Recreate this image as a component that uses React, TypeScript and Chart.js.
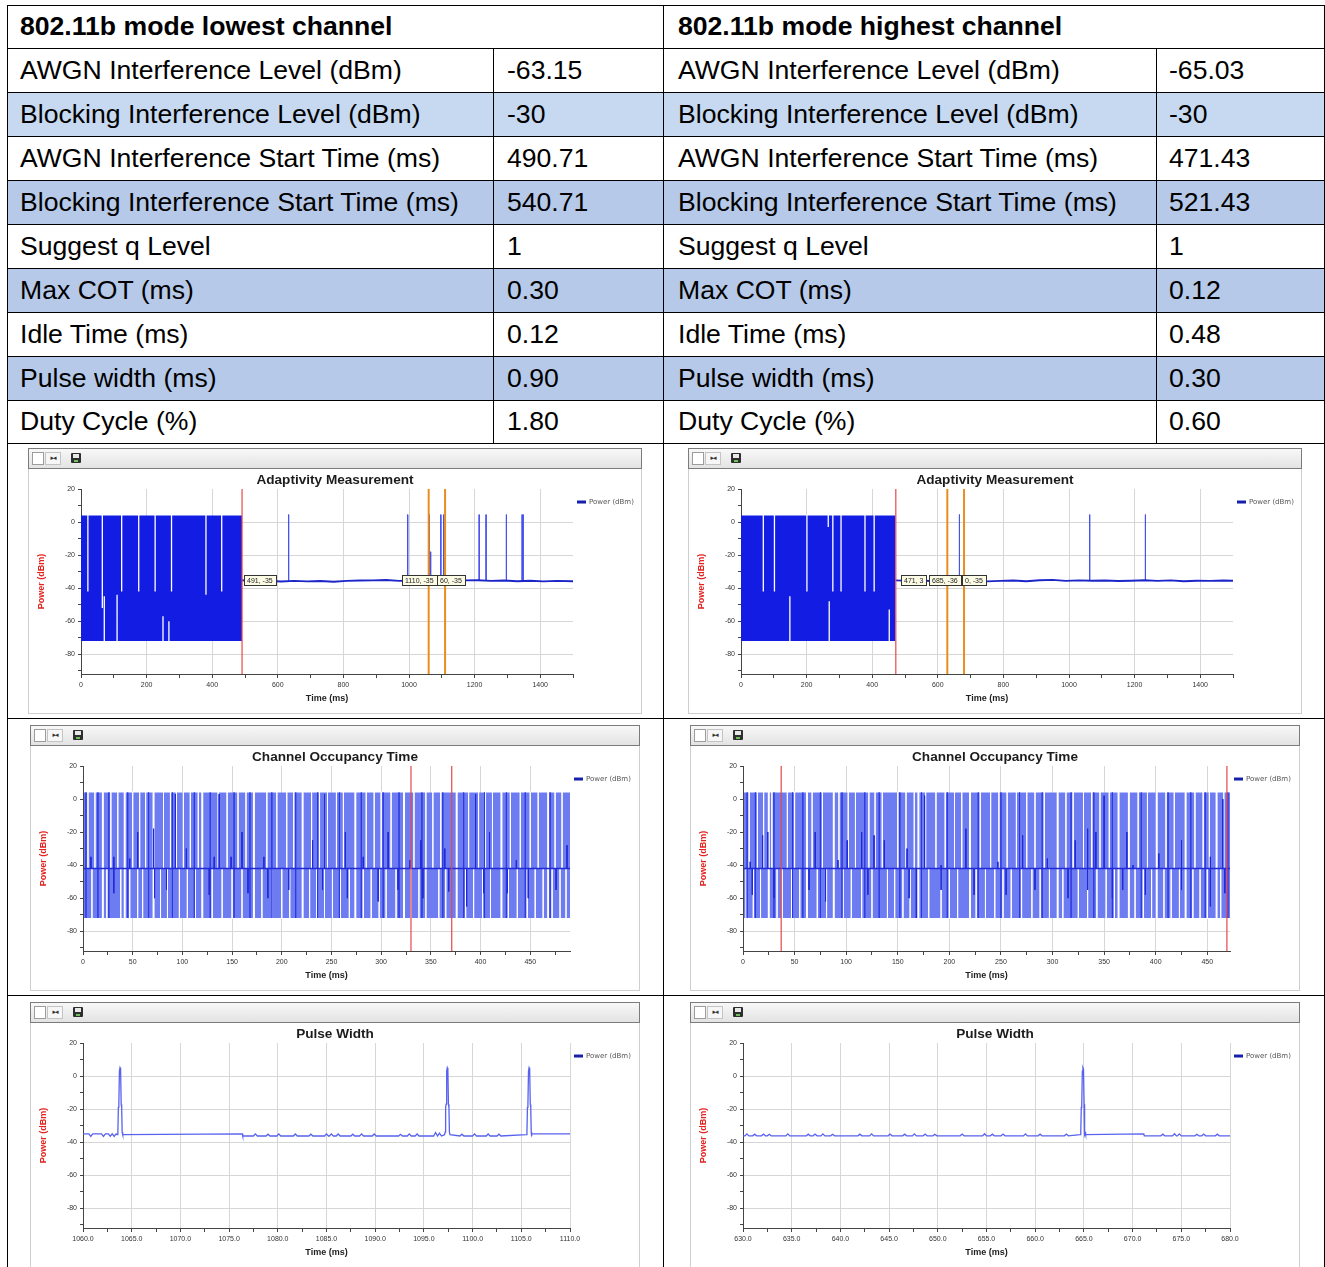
import React, { useEffect, useRef } from 'react';
import { Chart, registerables } from 'chart.js';

Chart.register(...registerables);

// ---------------- table content ----------------
const headerLowest = '802.11b mode lowest channel';
const headerHighest = '802.11b mode highest channel';
const rowLabels = [
  'AWGN Interference Level (dBm)',
  'Blocking Interference Level (dBm)',
  'AWGN Interference Start Time (ms)',
  'Blocking Interference Start Time (ms)',
  'Suggest q Level',
  'Max COT (ms)',
  'Idle Time (ms)',
  'Pulse width (ms)',
  'Duty Cycle (%)',
];
const lowestValues = ['-63.15', '-30', '490.71', '540.71', '1', '0.30', '0.12', '0.90', '1.80'];
const highestValues = ['-65.03', '-30', '471.43', '521.43', '1', '0.12', '0.48', '0.30', '0.60'];
const rowShades = ['none', 'light', 'none', 'mid', 'none', 'mid', 'none', 'mid', 'none'];

// ---------------- shared axis content ----------------
const powerTicks = [-90, -80, -70, -60, -50, -40, -30, -20, -10, 0, 10, 20];
const powerTickLabels = ['', '-80', '', '-60', '', '-40', '', '-20', '', '0', '', '20'];
const powerRange = [-92, 20];
const legendLabel = 'Power (dBm)';
const markerLabelLevel = -35;

// ---------------- Adaptivity (lowest) ----------------
const adaptTicks = [0, 100, 200, 300, 400, 500, 600, 700, 800, 900, 1000, 1100, 1200, 1300, 1400, 1500];
const adaptTickLabels = ['0', '', '200', '', '400', '', '600', '', '800', '', '1000', '', '1200', '', '1400', ''];
const blockLevels = [4, -72];
const a1Block = [0, 491];
const a1UpperGapTimes = [21, 65, 124, 176, 226, 276, 381, 429];
const a1UpperGapBottoms = [-42, -52, -42, -42, -42, -42, -44, -42];
const a1LowerGapTimes = [71, 110, 250, 268];
const a1LowerGapTops = [-45, -44, -57, -60];
const a1BaseTimes = [491, 530, 570, 610, 650, 690, 730, 770, 810, 850, 890, 930, 970, 1010, 1050, 1090, 1130, 1170, 1210, 1250, 1290, 1330, 1370, 1410, 1450, 1500];
const a1BaseValues = [-35.2, -35.8, -35.5, -36.0, -35.6, -35.9, -35.7, -36.1, -35.6, -35.4, -35.3, -35.1, -35.6, -35.4, -35.7, -35.5, -35.8, -35.3, -35.2, -35.6, -35.4, -35.8, -35.5, -35.9, -35.6, -35.8];
const a1SpikeTimes = [633, 996, 1062, 1066, 1097, 1106, 1214, 1235, 1297, 1345, 1348];
const a1SpikeTops = [4.5, 4.5, 4.5, -18, 4.5, 4.5, 4.5, 4.5, 4.5, 4.5, 4.5];
const a1RedLines = [491];
const a1OrangeLines = [1060, 1110];
const a1LabelTimes = [497, 979, 1085];
const a1LabelTexts = ['491, -35', '1110, -35', '60, -35'];

// ---------------- Adaptivity (highest) ----------------
const a2Block = [0, 471];
const a2UpperGapTimes = [68, 102, 201, 266, 280, 305, 378, 406];
const a2UpperGapBottoms = [-42, -42, -42, -3, -42, -42, -42, -42];
const a2LowerGapTimes = [149, 269, 452];
const a2LowerGapTops = [-45, -48, -53];
const a2BaseTimes = [471, 510, 550, 590, 630, 670, 710, 750, 790, 830, 870, 910, 950, 990, 1030, 1070, 1110, 1150, 1190, 1230, 1270, 1310, 1350, 1390, 1430, 1470, 1500];
const a2BaseValues = [-35.3, -35.6, -35.4, -35.8, -35.5, -35.3, -35.7, -35.9, -35.6, -35.4, -35.8, -35.2, -35.0, -35.6, -35.3, -35.5, -35.4, -35.7, -35.5, -35.2, -35.6, -35.3, -35.8, -35.5, -35.6, -35.4, -35.5];
const a2SpikeTimes = [666, 1063, 1233];
const a2SpikeTops = [4.5, 4.5, 4.5];
const a2RedLines = [472];
const a2OrangeLines = [629, 680];
const a2LabelTimes = [487, 572, 673];
const a2LabelTexts = ['471, 3', '685, -36', '0, -35'];

// ---------------- Channel Occupancy Time (lowest) ----------------
const cotMidLevel = -42;
const cot1Ticks = [0, 25, 50, 75, 100, 125, 150, 175, 200, 225, 250, 275, 300, 325, 350, 375, 400, 425, 450, 475];
const cot1TickLabels = ['0', '', '50', '', '100', '', '150', '', '200', '', '250', '', '300', '', '350', '', '400', '', '450', ''];
const cot1Range = [0, 490];
const c1Span = [1, 490];
const c1FullGaps = [20, 42, 71, 120, 172, 221, 274, 323, 376, 421, 468];
const c1UpperGaps = [5, 12, 28, 35, 50, 57, 63, 81, 88, 94, 101, 108, 116, 136, 145, 156, 164, 185, 195, 205, 212, 230, 238, 246, 255, 262, 285, 293, 300, 310, 333, 345, 352, 360, 388, 398, 405, 412, 430, 440, 450, 458, 475, 482];
const c1LowerGaps = [9, 24, 38, 47, 55, 60, 78, 85, 97, 105, 113, 130, 140, 150, 160, 180, 190, 200, 208, 228, 235, 243, 251, 259, 268, 282, 290, 298, 305, 315, 330, 338, 345, 358, 365, 385, 393, 402, 410, 428, 437, 447, 455, 463, 472, 480, 486];
const c1DarkFull = [3, 15, 26, 45, 66, 90, 112, 128, 152, 168, 190, 214, 236, 258, 280, 302, 318, 341, 362, 383, 404, 426, 445, 470];
const c1DarkUpTimes = [8, 31, 47, 55, 71, 93, 104, 132, 137, 149, 160, 182, 231, 243, 264, 282, 307, 329, 340, 364, 395, 409, 436, 487];
const c1DarkUpTops = [-35, -35, -36, -20, -18, 3, -30, -35, 3, -35, -20, -35, -25, 3, -20, -35, -20, -37, -25, -30, 3, -20, -37, -28];
const c1DarkLowTimes = [31, 72, 84, 127, 166, 186, 207, 241, 266, 297, 317, 342, 368, 386, 403, 427, 448, 476];
const c1DarkLowBottoms = [-57, -60, -55, -58, -57, -60, -55, -55, -60, -62, -55, -60, -56, -65, -57, -57, -60, -55];
const c1RedLines = [330, 371];

// ---------------- Channel Occupancy Time (highest) ----------------
const cot2Ticks = [0, 25, 50, 75, 100, 125, 150, 175, 200, 225, 250, 275, 300, 325, 350, 375, 400, 425, 450];
const cot2TickLabels = ['0', '', '50', '', '100', '', '150', '', '200', '', '250', '', '300', '', '350', '', '400', '', '450'];
const cot2Range = [0, 472];
const c2Span = [1, 472];
const c2FullGaps = [25, 62, 88, 170, 220, 305, 364, 374, 401, 429, 459];
const c2UpperGaps = [6, 14, 20, 28, 43, 50, 67, 77, 93, 102, 109, 122, 128, 135, 150, 158, 166, 177, 187, 196, 205, 212, 230, 240, 248, 256, 265, 275, 283, 292, 313, 320, 330, 338, 346, 355, 383, 392, 410, 418, 438, 446, 452, 466];
const c2LowerGaps = [3, 10, 17, 33, 38, 47, 55, 72, 81, 97, 105, 115, 125, 140, 147, 155, 162, 180, 192, 200, 208, 226, 235, 244, 252, 260, 270, 280, 288, 297, 310, 325, 334, 343, 352, 360, 380, 388, 396, 408, 415, 423, 436, 443, 450, 463];
const c2DarkFull = [4, 12, 30, 48, 58, 75, 96, 118, 132, 152, 173, 198, 228, 250, 268, 290, 318, 340, 358, 386, 412, 434, 448, 470];
const c2DarkUpTimes = [7, 19, 24, 70, 92, 101, 115, 127, 137, 159, 176, 192, 216, 247, 271, 295, 322, 334, 342, 350, 372, 378, 403, 425, 453, 465];
const c2DarkUpTops = [-38, -22, -20, -20, -37, -25, -20, -22, -25, -30, 2, -40, -18, -38, -22, -36, -25, -18, -20, 2, -20, -40, -33, -25, -35, 0];
const c2DarkLowTimes = [9, 30, 64, 80, 121, 161, 168, 192, 224, 255, 283, 315, 334, 358, 368, 390, 425, 453, 467];
const c2DarkLowBottoms = [-58, -60, -55, -62, -58, -60, -72, -55, -58, -58, -55, -60, -55, -60, -55, -58, -55, -65, -57];
const c2RedLines = [37, 469];

// ---------------- Pulse Width ----------------
const pulseOffsets = [-0.28, -0.22, -0.17, -0.12, -0.06, 0, 0.06, 0.12, 0.17, 0.22, 0.28];
const pulseLevels = [-35.5, -34, -19, -17, 3, 5, 4, -17, -19, -34, -35.5];

const pulse1Ticks = [1060, 1062.5, 1065, 1067.5, 1070, 1072.5, 1075, 1077.5, 1080, 1082.5, 1085, 1087.5, 1090, 1092.5, 1095, 1097.5, 1100, 1102.5, 1105, 1107.5, 1110];
const pulse1TickLabels = ['1060.0', '', '1065.0', '', '1070.0', '', '1075.0', '', '1080.0', '', '1085.0', '', '1090.0', '', '1095.0', '', '1100.0', '', '1105.0', '', '1110.0'];
const p1LevelStarts = [1060, 1076.4, 1106.1];
const p1LevelValues = [-35, -36.3, -35];
const p1BumpTimes = [1060.8, 1062.1, 1062.8, 1063.2, 1077.7, 1079.0, 1080.1, 1081.8, 1083.4, 1085.0, 1085.5, 1086.2, 1087.7, 1088.6, 1089.9, 1092.6, 1093.5, 1094.3, 1096.2, 1096.6, 1098.9, 1100.2, 1101.6, 1102.7];
const p1BumpValues = [-36.6, -36.6, -36.4, -36.6, -35.0, -35.2, -35.0, -35.1, -35.2, -35.0, -35.0, -35.1, -35.2, -35.0, -35.1, -35.3, -35.0, -35.1, -34.2, -34.6, -35.2, -35.0, -35.1, -35.2];
const p1PulseTimes = [1063.8, 1097.4, 1105.8];

const pulse2Ticks = [630, 632.5, 635, 637.5, 640, 642.5, 645, 647.5, 650, 652.5, 655, 657.5, 660, 662.5, 665, 667.5, 670, 672.5, 675, 677.5, 680];
const pulse2TickLabels = ['630.0', '', '635.0', '', '640.0', '', '645.0', '', '650.0', '', '655.0', '', '660.0', '', '665.0', '', '670.0', '', '675.0', '', '680.0'];
const p2LevelStarts = [630, 665.1, 671.2];
const p2LevelValues = [-36.2, -35, -36.2];
const p2BumpTimes = [630.4, 631.2, 632.1, 632.7, 634.6, 636.7, 637.4, 638.2, 639.2, 642.0, 643.2, 645.1, 646.6, 647.6, 648.7, 649.7, 652.5, 654.8, 655.6, 656.7, 659.0, 660.5, 663.2, 673.1, 674.3, 674.8, 676.6, 677.3, 678.7];
const p2BumpValues = [-35.0, -35.2, -35.1, -35.3, -35.0, -35.2, -35.1, -35.0, -35.3, -35.2, -35.0, -35.1, -35.2, -35.0, -35.1, -35.3, -35.1, -34.9, -35.2, -35.1, -35.0, -35.2, -35.1, -35.2, -34.9, -35.0, -35.3, -35.1, -35.2];
const p2PulseTimes = [664.9];

// ---------------- styles ----------------
const FONT = '"Liberation Sans", Arial, sans-serif';
const BLOCK_BLUE = 'rgb(18,28,226)';
const BASE_BLUE = 'rgb(28,38,200)';
const SPIKE_BLUE = 'rgb(70,82,236)';
const COT_FILL = 'rgb(110,124,242)';
const COT_DARK = 'rgb(32,42,214)';
const COT_MED = 'rgba(40,52,222,0.65)';
const COT_GAP = 'rgba(255,255,255,0.85)';
const PULSE_BLUE = 'rgb(88,98,238)';
const RED = 'rgb(232,72,72)';
const ORANGE = 'rgb(232,142,32)';
const GRID = '#d6d6d6';
const AXIS = '#444';

type P = { x: number; y: number | null };

const seg = (times: number[], top: number | number[], bottom: number | number[]): P[] => {
  const pts: P[] = [];
  times.forEach((t, i) => {
    const a = Array.isArray(top) ? top[i] : top;
    const b = Array.isArray(bottom) ? bottom[i] : bottom;
    pts.push({ x: t, y: a }, { x: t, y: b }, { x: t, y: null });
  });
  return pts;
};

const lineDs = (data: P[], color: string, width: number, order: number, label = '') => ({
  label,
  data,
  borderColor: color,
  backgroundColor: color,
  borderWidth: width,
  pointRadius: 0,
  pointHoverRadius: 0,
  fill: false,
  tension: 0,
  spanGaps: false,
  order,
});

const bandDs = (span: number[], top: number, bottom: number, color: string, order: number) => ({
  label: '',
  data: [{ x: span[0], y: top }, { x: span[1], y: top }],
  borderWidth: 0,
  borderColor: 'rgba(0,0,0,0)',
  backgroundColor: color,
  pointRadius: 0,
  fill: { value: bottom },
  order,
});

const zip = (xs: number[], ys: number[]): P[] => xs.map((x, i) => ({ x, y: ys[i] }));

function adaptivityDatasets(block: number[], upT: number[], upB: number[], lowT: number[], lowTop: number[],
  baseT: number[], baseV: number[], spikeT: number[], spikeTop: number[], red: number[], orange: number[]) {
  const [top, bottom] = blockLevels;
  return [
    bandDs(block, top, bottom, BLOCK_BLUE, 20),
    lineDs(seg(upT, top + 0.5, upB), '#ffffff', 1.3, 18),
    lineDs(seg(lowT, lowTop, bottom - 0.5), '#ffffff', 1.3, 18),
    lineDs(seg(spikeT, spikeTop, -35.5), SPIKE_BLUE, 1, 11),
    lineDs(zip(baseT, baseV), BASE_BLUE, 1.9, 10, legendLabel),
    lineDs(seg(red, powerRange[1], powerRange[0]), RED, 1.2, 2),
    lineDs(seg(orange, powerRange[1], powerRange[0]), ORANGE, 2, 2),
  ];
}

function cotDatasets(span: number[], full: number[], upper: number[], lower: number[], darkFull: number[], darkUpT: number[], darkUpTop: number[],
  darkLowT: number[], darkLowBottom: number[], red: number[]) {
  const [top, bottom] = blockLevels;
  return [
    bandDs(span, top, bottom, COT_FILL, 20),
    lineDs(seg(upper, top + 0.5, cotMidLevel), COT_GAP, 1, 18),
    lineDs(seg(lower, cotMidLevel, bottom - 0.5), COT_GAP, 1, 18),
    lineDs(seg(full, top + 0.5, bottom - 0.5), '#ffffff', 2, 17),
    lineDs(seg(darkFull, top, bottom), COT_MED, 1, 16),
    lineDs(seg(darkUpT, darkUpTop, cotMidLevel), COT_DARK, 1, 15),
    lineDs(seg(darkLowT, cotMidLevel, darkLowBottom), COT_DARK, 1, 15),
    lineDs([{ x: span[0], y: cotMidLevel }, { x: span[1], y: cotMidLevel }], COT_DARK, 1.5, 12, legendLabel),
    lineDs(seg(red, powerRange[1], powerRange[0]), RED, 1.2, 2),
  ];
}

function pulseDatasets(levelStarts: number[], levelValues: number[], bumpT: number[], bumpV: number[], pulseT: number[], xMax: number) {
  const levelAt = (t: number) => {
    let v = levelValues[0];
    levelStarts.forEach((s, i) => { if (t >= s) v = levelValues[i]; });
    return v;
  };
  const pts: P[] = [];
  levelStarts.forEach((s, i) => {
    if (i > 0) pts.push({ x: s - 0.05, y: levelValues[i - 1] });
    pts.push({ x: s, y: levelValues[i] });
  });
  pts.push({ x: xMax, y: levelValues[levelValues.length - 1] });
  bumpT.forEach((t, i) => {
    const b = levelAt(t);
    pts.push({ x: t - 0.2, y: b }, { x: t, y: bumpV[i] }, { x: t + 0.2, y: b });
  });
  pulseT.forEach((t) => pulseOffsets.forEach((o, j) => pts.push({ x: t + o, y: pulseLevels[j] })));
  pts.sort((a, b) => a.x - b.x);
  return [lineDs(pts, PULSE_BLUE, 1.3, 10, legendLabel)];
}

const sideLegend = {
  id: 'sideLegend',
  afterDraw(chart: any) {
    const { ctx, chartArea } = chart;
    const x = chartArea.right + 4;
    const y = chartArea.top + 13;
    ctx.save();
    ctx.fillStyle = 'rgb(22,32,170)';
    ctx.fillRect(x, y - 1.5, 9, 3);
    ctx.font = `7px "DejaVu Sans", sans-serif`;
    ctx.fillStyle = '#555';
    ctx.textBaseline = 'middle';
    ctx.fillText(legendLabel, x + 12, y + 0.5);
    ctx.restore();
  },
};

const labelBoxes = (times: number[], texts: string[]) => ({
  id: 'labelBoxes',
  afterDatasetsDraw(chart: any) {
    const { ctx, scales } = chart;
    ctx.save();
    ctx.font = `7px ${FONT}`;
    ctx.textBaseline = 'middle';
    times.forEach((t, i) => {
      const px = Math.round(scales.x.getPixelForValue(t));
      const py = Math.round(scales.y.getPixelForValue(markerLabelLevel));
      const w = Math.round(ctx.measureText(texts[i]).width + 6);
      const h = 10;
      ctx.fillStyle = '#fbfbe6';
      ctx.fillRect(px, py - h / 2, w, h);
      ctx.strokeStyle = '#333';
      ctx.lineWidth = 1;
      ctx.strokeRect(px + 0.5, py - h / 2 + 0.5, w, h);
      ctx.fillStyle = '#222';
      ctx.fillText(texts[i], px + 3, py + 1);
    });
    ctx.restore();
  },
});

interface Spec {
  title: string;
  xRange: number[];
  xTicks: number[];
  xTickLabels: string[];
  datasets: any[];
  labelTimes?: number[];
  labelTexts?: string[];
}

const specs: Spec[] = [
  {
    title: 'Adaptivity Measurement', xRange: [0, 1500], xTicks: adaptTicks, xTickLabels: adaptTickLabels,
    datasets: adaptivityDatasets(a1Block, a1UpperGapTimes, a1UpperGapBottoms, a1LowerGapTimes, a1LowerGapTops,
      a1BaseTimes, a1BaseValues, a1SpikeTimes, a1SpikeTops, a1RedLines, a1OrangeLines),
    labelTimes: a1LabelTimes, labelTexts: a1LabelTexts,
  },
  {
    title: 'Adaptivity Measurement', xRange: [0, 1500], xTicks: adaptTicks, xTickLabels: adaptTickLabels,
    datasets: adaptivityDatasets(a2Block, a2UpperGapTimes, a2UpperGapBottoms, a2LowerGapTimes, a2LowerGapTops,
      a2BaseTimes, a2BaseValues, a2SpikeTimes, a2SpikeTops, a2RedLines, a2OrangeLines),
    labelTimes: a2LabelTimes, labelTexts: a2LabelTexts,
  },
  {
    title: 'Channel Occupancy Time', xRange: cot1Range, xTicks: cot1Ticks, xTickLabels: cot1TickLabels,
    datasets: cotDatasets(c1Span, c1FullGaps, c1UpperGaps, c1LowerGaps, c1DarkFull, c1DarkUpTimes, c1DarkUpTops, c1DarkLowTimes, c1DarkLowBottoms, c1RedLines),
  },
  {
    title: 'Channel Occupancy Time', xRange: cot2Range, xTicks: cot2Ticks, xTickLabels: cot2TickLabels,
    datasets: cotDatasets(c2Span, c2FullGaps, c2UpperGaps, c2LowerGaps, c2DarkFull, c2DarkUpTimes, c2DarkUpTops, c2DarkLowTimes, c2DarkLowBottoms, c2RedLines),
  },
  {
    title: 'Pulse Width', xRange: [1060, 1110], xTicks: pulse1Ticks, xTickLabels: pulse1TickLabels,
    datasets: pulseDatasets(p1LevelStarts, p1LevelValues, p1BumpTimes, p1BumpValues, p1PulseTimes, 1110),
  },
  {
    title: 'Pulse Width', xRange: [630, 680], xTicks: pulse2Ticks, xTickLabels: pulse2TickLabels,
    datasets: pulseDatasets(p2LevelStarts, p2LevelValues, p2BumpTimes, p2BumpValues, p2PulseTimes, 680),
  },
];

const CANVAS_H = 244;
const PLOT_LEFT = 52;

function makeConfig(spec: Spec, canvasW: number, plotRight: number): any {
  const tickFont = { size: 7, family: FONT };
  return {
    type: 'line',
    data: { datasets: spec.datasets },
    options: {
      animation: false,
      responsive: false,
      events: [],
      layout: { padding: 0 },
      plugins: {
        legend: { display: false },
        tooltip: { enabled: false },
        title: {
          display: true,
          text: spec.title,
          color: '#1c1c1c',
          font: { size: 13.6, weight: 'bold', family: FONT },
          padding: { top: 3, bottom: 0.7 },
        },
      },
      scales: {
        x: {
          type: 'linear',
          min: spec.xRange[0],
          max: spec.xRange[1],
          afterBuildTicks: (s: any) => { s.ticks = spec.xTicks.map((v) => ({ value: v })); },
          afterFit: (s: any) => { s.height = 39; },
          ticks: {
            autoSkip: false, maxRotation: 0, minRotation: 0, padding: 3, color: '#333', font: tickFont,
            callback: (_v: any, i: number) => spec.xTickLabels[i],
          },
          grid: {
            color: (c: any) => (spec.xTickLabels[c.index] ? GRID : 'rgba(0,0,0,0)'),
            tickColor: AXIS, tickLength: 4, lineWidth: 1,
          },
          border: { color: AXIS, width: 1 },
          title: {
            display: true, text: 'Time (ms)', color: '#222',
            font: { size: 9, weight: 'bold', family: FONT }, padding: { top: 0, bottom: 8.6 },
          },
        },
        y: {
          type: 'linear',
          min: powerRange[0],
          max: powerRange[1],
          afterBuildTicks: (s: any) => { s.ticks = powerTicks.map((v) => ({ value: v })); },
          afterFit: (s: any) => { s.width = PLOT_LEFT; },
          ticks: {
            autoSkip: false, padding: 3, color: '#333', font: tickFont,
            callback: (_v: any, i: number) => powerTickLabels[i],
          },
          grid: {
            color: (c: any) => (powerTickLabels[c.index] && c.index < powerTicks.length - 1 ? GRID : 'rgba(0,0,0,0)'),
            tickColor: AXIS, tickLength: 3, lineWidth: 1,
          },
          border: { color: AXIS, width: 1 },
          title: {
            display: true, text: 'Power (dBm)', color: '#e2231f',
            font: { size: 9, weight: 'bold', family: FONT }, padding: { top: 7.6, bottom: 0 },
          },
        },
        yRight: {
          type: 'linear', position: 'right', min: 0, max: 1,
          afterFit: (s: any) => { s.width = canvasW - plotRight; },
          ticks: { display: false },
          grid: { display: false, drawOnChartArea: false },
          border: { display: false },
        },
      },
    },
    plugins: [sideLegend, ...(spec.labelTimes ? [labelBoxes(spec.labelTimes, spec.labelTexts || [])] : [])],
  };
}

function Toolbar({ width }: { width: number }) {
  return (
    <div style={{ position: 'relative', width: width - 2, height: 19, border: '1px solid #7b7b7b', background: 'linear-gradient(#f8f8f8, #e3e3e3)' }}>
      <div style={{ position: 'absolute', left: 3, top: 3, width: 10, height: 11, background: '#fff', border: '1px solid #9c9c9c' }} />
      <div style={{ position: 'absolute', left: 16, top: 3, width: 14, height: 11, background: '#f6f6f6', border: '1px solid #c4c4c4',
        fontSize: 7, lineHeight: '11px', textAlign: 'center', color: '#333', fontFamily: '"DejaVu Sans", sans-serif', letterSpacing: -1 }}>▸◂</div>
      <div style={{ position: 'absolute', left: 42, top: 4, width: 10, height: 10, background: '#2e2e2e', borderRadius: 1 }}>
        <div style={{ position: 'absolute', left: 2, top: 1, width: 6, height: 4, background: '#e8e8e8' }} />
        <div style={{ position: 'absolute', left: 3, top: 7, width: 4, height: 2, background: '#6fbf5a' }} />
      </div>
    </div>
  );
}

function ChartPanel({ spec, left, top, width, plotRight }: { spec: Spec; left: number; top: number; width: number; plotRight: number }) {
  const ref = useRef<HTMLCanvasElement>(null);
  const canvasW = width - 2;
  useEffect(() => {
    const chart = new Chart(ref.current as HTMLCanvasElement, makeConfig(spec, canvasW, plotRight));
    return () => chart.destroy();
  }, []);
  return (
    <div style={{ position: 'absolute', left, top, width }}>
      <Toolbar width={width} />
      <div style={{ width: canvasW, height: CANVAS_H, borderLeft: '1px solid #cfcfcf', borderRight: '1px solid #cfcfcf', borderBottom: '1px solid #cfcfcf', background: '#fff' }}>
        <canvas ref={ref} width={canvasW} height={CANVAS_H} style={{ display: 'block', width: canvasW, height: CANVAS_H }} />
      </div>
    </div>
  );
}

// layout grid of the table
const colX = [7, 493, 663, 1156, 1324];
const rowY = [5, 48, 92, 136, 180, 224, 268, 312, 356, 400, 443, 718, 995, 1267];
const padX = [13, 14, 15, 13];
const shadeColor: Record<string, string> = { none: '#ffffff', light: '#c6d9f1', mid: '#b6c9e8' };

const panels = [
  { left: 28, top: 448, width: 614, plotRight: 544 },
  { left: 688, top: 448, width: 614, plotRight: 544 },
  { left: 30, top: 725, width: 610, plotRight: 539 },
  { left: 690, top: 725, width: 610, plotRight: 539 },
  { left: 30, top: 1002, width: 610, plotRight: 539 },
  { left: 690, top: 1002, width: 610, plotRight: 539 },
];

function Cell({ x0, x1, y0, y1, text, bold, bg, pad }: { x0: number; x1: number; y0: number; y1: number; text: string; bold?: boolean; bg: string; pad: number }) {
  return (
    <div style={{
      position: 'absolute', left: x0, top: y0, width: x1 - x0, height: y1 - y0, background: bg,
      display: 'flex', alignItems: 'center', paddingLeft: pad, boxSizing: 'border-box',
      fontFamily: FONT, fontSize: 26.6, fontWeight: bold ? 'bold' : 'normal', color: '#000', whiteSpace: 'nowrap',
    }}>{text}</div>
  );
}

export default function App() {
  const cells: React.ReactNode[] = [];
  cells.push(<Cell key="h0" x0={colX[0]} x1={colX[2]} y0={rowY[0]} y1={rowY[1]} text={headerLowest} bold bg="#fff" pad={padX[0]} />);
  cells.push(<Cell key="h1" x0={colX[2]} x1={colX[4]} y0={rowY[0]} y1={rowY[1]} text={headerHighest} bold bg="#fff" pad={padX[2]} />);
  rowLabels.forEach((label, i) => {
    const y0 = rowY[i + 1];
    const y1 = rowY[i + 2];
    const bg = shadeColor[rowShades[i]];
    cells.push(<Cell key={`l${i}`} x0={colX[0]} x1={colX[1]} y0={y0} y1={y1} text={label} bg={bg} pad={padX[0]} />);
    cells.push(<Cell key={`lv${i}`} x0={colX[1]} x1={colX[2]} y0={y0} y1={y1} text={lowestValues[i]} bg={bg} pad={padX[1]} />);
    cells.push(<Cell key={`r${i}`} x0={colX[2]} x1={colX[3]} y0={y0} y1={y1} text={label} bg={bg} pad={padX[2]} />);
    cells.push(<Cell key={`rv${i}`} x0={colX[3]} x1={colX[4]} y0={y0} y1={y1} text={highestValues[i]} bg={bg} pad={padX[3]} />);
  });

  const lines: React.ReactNode[] = [];
  rowY.forEach((y, i) => {
    lines.push(<div key={`hl${i}`} style={{ position: 'absolute', left: colX[0], top: y, width: colX[4] - colX[0] + 1, height: 1, background: '#000' }} />);
  });
  [colX[0], colX[2], colX[4]].forEach((x, i) => {
    lines.push(<div key={`vf${i}`} style={{ position: 'absolute', left: x, top: rowY[0], width: 1, height: rowY[rowY.length - 1] - rowY[0], background: '#000' }} />);
  });
  [colX[1], colX[3]].forEach((x, i) => {
    lines.push(<div key={`vp${i}`} style={{ position: 'absolute', left: x, top: rowY[1], width: 1, height: rowY[10] - rowY[1], background: '#000' }} />);
  });

  return (
    <div style={{ position: 'absolute', left: 0, top: 0, width: 1325, height: 1267, overflow: 'hidden', background: '#fff' }}>
      {cells}
      {lines}
      {panels.map((p, i) => (
        <ChartPanel key={i} spec={specs[i]} left={p.left} top={p.top} width={p.width} plotRight={p.plotRight} />
      ))}
    </div>
  );
}
